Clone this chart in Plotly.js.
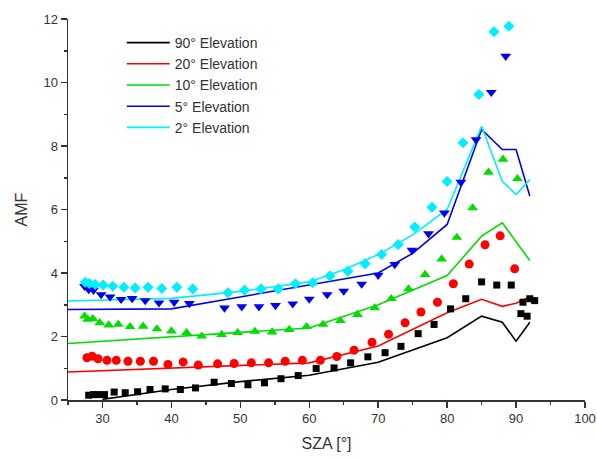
<!DOCTYPE html>
<html>
<head>
<meta charset="utf-8">
<script src="https://cdn.plot.ly/plotly-3.0.1.min.js"></script>
<style>html,body{margin:0;padding:0;background:#fff;}#chart{width:597px;height:460px;}</style>
</head>
<body>
<div id="chart"></div>
<script>
// ---- Model lines (SZA, AMF) ----
const line90X = [30, 40, 50, 60, 70, 80, 85, 88, 90, 92];
const line90Y = [0.02, 0.33, 0.58, 0.78, 1.19, 1.96, 2.64, 2.45, 1.85, 2.45];
const line20X = [25, 40, 60, 70, 80, 85, 88, 90, 92];
const line20Y = [0.88, 1.0, 1.17, 1.7, 2.75, 3.17, 2.95, 3.05, 3.25];
const line10X = [25, 40, 60, 70, 80, 85, 88, 92];
const line10Y = [1.78, 1.98, 2.27, 3.0, 3.92, 5.16, 5.58, 4.39];
const line5X = [25, 40, 70, 75, 80, 85, 88, 90, 92];
const line5Y = [2.85, 2.87, 4.0, 4.62, 5.53, 8.52, 7.89, 7.89, 6.42];
const line2X = [25, 40, 50, 60, 65, 70, 75, 80, 85, 88, 90, 92];
const line2Y = [3.12, 3.2, 3.42, 3.72, 4.1, 4.58, 5.2, 6.0, 8.62, 6.89, 6.47, 6.94];

// ---- Measured points ----
const meas90X = [28.0, 28.7, 29.3, 30.3, 31.7, 33.3, 35.1, 36.9, 39.1, 41.3, 43.5, 46.2, 48.7, 51.1, 53.5, 55.9, 58.4, 61.0, 63.6, 66.0, 68.5, 71.0, 73.3, 75.8, 78.1, 80.5, 82.7, 85.0, 87.2, 89.3, 90.7, 91.0, 91.6, 92.0, 92.7];
const meas90Y = [0.15, 0.17, 0.17, 0.17, 0.25, 0.23, 0.26, 0.33, 0.35, 0.33, 0.38, 0.56, 0.52, 0.48, 0.54, 0.67, 0.77, 0.99, 1.01, 1.17, 1.36, 1.49, 1.69, 2.09, 2.38, 2.87, 3.19, 3.72, 3.62, 3.62, 2.72, 3.08, 2.64, 3.19, 3.13];
const meas20X = [27.75, 28.5, 29.35, 30.65, 32.0, 33.7, 35.5, 37.4, 39.5, 41.7, 43.9, 46.7, 49.1, 51.6, 54.1, 56.5, 59.0, 61.6, 64.0, 66.5, 69.1, 71.5, 73.9, 76.2, 78.6, 80.9, 83.2, 85.5, 87.7, 89.8];
const meas20Y = [1.33, 1.38, 1.30, 1.25, 1.25, 1.22, 1.22, 1.22, 1.12, 1.20, 1.10, 1.14, 1.15, 1.17, 1.17, 1.22, 1.25, 1.25, 1.37, 1.57, 1.82, 2.07, 2.43, 2.77, 3.08, 3.66, 4.28, 4.89, 5.17, 4.13];
const meas10X = [27.4, 27.85, 28.6, 29.6, 30.9, 32.3, 34.0, 35.9, 37.9, 40.0, 42.2, 44.4, 47.3, 49.6, 52.1, 54.6, 57.1, 59.6, 62.0, 64.5, 67.0, 69.5, 71.9, 74.4, 76.8, 79.2, 81.4, 83.7, 86.0, 88.1, 90.2];
const meas10Y = [2.64, 2.54, 2.56, 2.43, 2.36, 2.38, 2.31, 2.32, 2.24, 2.17, 2.12, 2.01, 2.06, 2.12, 2.16, 2.14, 2.22, 2.31, 2.38, 2.50, 2.69, 2.90, 3.19, 3.50, 3.95, 4.44, 5.12, 6.05, 7.17, 7.58, 6.97];
const meas5X = [27.4, 28.0, 28.7, 29.8, 31.1, 32.7, 34.3, 36.2, 38.2, 40.4, 42.6, 47.7, 50.2, 52.7, 55.1, 57.6, 60.0, 62.6, 65.0, 67.6, 70.0, 72.4, 74.9, 77.3, 79.6, 82.0, 84.2, 86.4, 88.5];
const meas5Y = [3.58, 3.48, 3.46, 3.32, 3.25, 3.17, 3.20, 3.13, 3.06, 3.08, 3.04, 2.90, 2.94, 2.94, 2.98, 3.03, 3.18, 3.32, 3.43, 3.65, 3.93, 4.27, 4.72, 5.24, 5.89, 6.86, 8.2, 9.69, 10.83];
const meas2X = [27.5, 28.1, 28.95, 30.1, 31.5, 33.1, 34.75, 36.6, 38.6, 40.8, 43.1, 48.2, 50.6, 53.0, 55.5, 58.0, 60.5, 63.0, 65.6, 68.1, 70.5, 72.9, 75.3, 77.8, 80.0, 82.3, 84.6, 86.8, 88.95];
const meas2Y = [3.71, 3.67, 3.64, 3.62, 3.58, 3.55, 3.53, 3.55, 3.51, 3.55, 3.50, 3.38, 3.46, 3.50, 3.50, 3.66, 3.69, 3.91, 4.06, 4.29, 4.58, 4.90, 5.45, 6.07, 6.88, 8.10, 9.62, 11.6, 11.77];

const names = ['90° Elevation', '20° Elevation', '10° Elevation', '5° Elevation', '2° Elevation'];
const colors = ['#000000', '#ff0000', '#00dd00', '#0000ee', '#00eeff'];
const symbols = ['square', 'circle', 'triangle-up', 'triangle-down', 'diamond'];
const sizes = [7, 9, 9.5, 9.5, 8.5];

const lineX = [line90X, line20X, line10X, line5X, line2X];
const lineY = [line90Y, line20Y, line10Y, line5Y, line2Y];
const measX = [meas90X, meas20X, meas10X, meas5X, meas2X];
const measY = [meas90Y, meas20Y, meas10Y, meas5Y, meas2Y];

const traces = [];
for (let i = 0; i < 5; i++) {
  traces.push({
    x: lineX[i], y: lineY[i], type: 'scatter', mode: 'lines', name: names[i],
    line: {color: colors[i], width: 1.6}, showlegend: true
  });
}
for (let i = 0; i < 5; i++) {
  traces.push({
    x: measX[i], y: measY[i], type: 'scatter', mode: 'markers', name: names[i] + ' meas',
    marker: {color: colors[i], symbol: symbols[i], size: sizes[i], line: {width: 0}}, showlegend: false
  });
}

const axisFont = {family: 'Liberation Sans, Arial, sans-serif', size: 13, color: '#333'};
const layout = {
  width: 597, height: 460,
  margin: {l: 68, r: 12, t: 19, b: 60},
  paper_bgcolor: '#fff', plot_bgcolor: '#fff',
  font: {family: 'Liberation Sans, Arial, sans-serif', color: '#333'},
  showlegend: true,
  legend: {
    x: 0.104, y: 0.979, xanchor: 'left', yanchor: 'top',
    bgcolor: 'rgba(0,0,0,0)', borderwidth: 0,
    font: {family: 'Liberation Sans, Arial, sans-serif', size: 14, color: '#333'},
    itemwidth: 43, tracegroupgap: 0
  },
  xaxis: {
    range: [25, 100], tick0: 0, dtick: 10, showgrid: false, zeroline: false,
    showline: true, linecolor: '#333', linewidth: 1.5, mirror: false,
    ticks: 'outside', ticklen: 6, tickwidth: 1.5, tickcolor: '#333',
    tickfont: axisFont,
    minor: {dtick: 5, ticks: 'outside', ticklen: 3, tickwidth: 1.5, tickcolor: '#333', showgrid: false},
    title: {text: 'SZA [°]', font: {family: 'Liberation Sans, Arial, sans-serif', size: 16, color: '#333'}, standoff: 12}
  },
  yaxis: {
    range: [0, 12], tick0: 0, dtick: 2, showgrid: false, zeroline: false,
    showline: true, linecolor: '#333', linewidth: 1.5, mirror: false,
    ticks: 'outside', ticklen: 6, tickwidth: 1.5, tickcolor: '#333',
    tickfont: axisFont,
    minor: {dtick: 1, ticks: 'outside', ticklen: 3, tickwidth: 1.5, tickcolor: '#333', showgrid: false},
    title: {text: 'AMF', font: {family: 'Liberation Sans, Arial, sans-serif', size: 16, color: '#333'}, standoff: 12}
  }
};

Plotly.newPlot('chart', traces, layout, {displayModeBar: false, staticPlot: true});
</script>
</body>
</html>
